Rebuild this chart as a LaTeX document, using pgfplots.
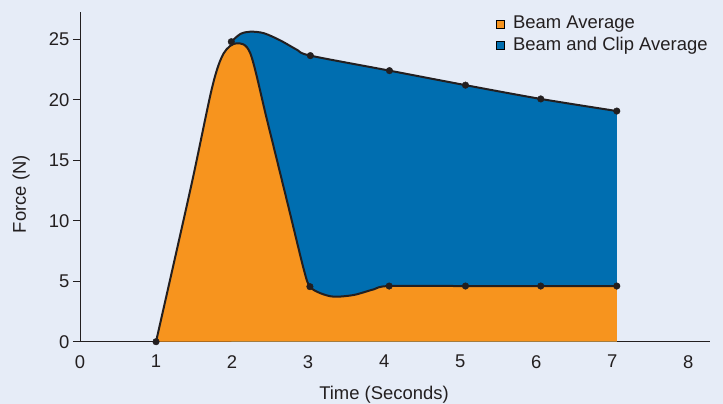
\documentclass[border=0pt]{standalone}
\usepackage{pgfplots}
\pgfplotsset{compat=1.18}
\usepackage{pgfplotstable}
\usepackage{fontspec}
\setmainfont{Liberation Sans}
\definecolor{bgc}{RGB}{230,236,247}
\definecolor{borange}{RGB}{247,148,30}
\definecolor{bblue}{RGB}{0,110,176}
\definecolor{txt}{RGB}{35,31,32}

\pgfplotstableread{
x y
1.00 0.00
1.46 12.81
1.74 21.07
1.89 23.83
2.06 24.66
2.24 23.83
2.46 18.32
2.73 11.44
2.945 5.93
3.024 4.55
3.165 4.00
3.34 3.72
3.60 3.86
3.865 4.33
4.066 4.60
5.07 4.60
6.06 4.60
7.06 4.60
}\orangecurve

\pgfplotstableread{
x y
1.99 24.79
2.11 25.43
2.24 25.62
2.42 25.49
2.64 24.88
2.86 24.10
3.03 23.64
4.07 22.40
5.07 21.20
6.06 20.06
7.06 19.06
}\bluecurve

\pgfplotstableread{
x y
1.00 0.00
3.024 4.55
4.066 4.60
5.07 4.60
6.06 4.60
7.06 4.60
}\orangemarks

\pgfplotstableread{
x y
1.99 24.79
3.03 23.64
4.07 22.40
5.07 21.20
6.06 20.06
7.06 19.06
}\bluemarks

\begin{document}
\begin{tikzpicture}
\fill[bgc] (-80bp,-62.3bp) rectangle (643bp,341.7bp);
\begin{axis}[
  at={(0bp,0bp)}, anchor=south west,
  scale only axis, width=630bp, height=329.4bp,
  xmin=0, xmax=8.286, ymin=0, ymax=27.22,
  axis x line=bottom, axis y line=left,
  axis line style={-, line width=1bp, color=txt},
  xtick={0,1,...,8}, ytick={0,5,...,25},
  x tick style={draw=none},
  y tick style={line width=1bp, color=txt},
  major tick length=7bp, tick align=outside,
  ticklabel style={font=\fontsize{18.5}{21}\selectfont, text=txt},
  xticklabel style={yshift=-3bp},
  /pgf/number format/assume math mode=true,
  label style={font=\fontsize{18.5}{21}\selectfont, text=txt},
  xlabel={Time (Seconds)}, ylabel={Force (N)},
  xlabel style={at={(axis description cs:0.4825,-0.162)}, anchor=center},
  ylabel style={at={(axis description cs:-0.0935,0.448)}, anchor=center},
  clip=false,
  legend cell align=left,
  legend image code/.code={\fill[#1] (0bp,-4bp) rectangle (8bp,4bp);},
  legend style={at={(axis description cs:0.660,0.990)}, anchor=north west,
    draw=none, fill=none, inner sep=0pt, outer sep=0pt,
    font=\fontsize{18.5}{21}\selectfont, text=txt,
    row sep=5bp, column sep=0bp,
    nodes={inner sep=0pt, text height=13bp, text depth=3.5bp},
    /tikz/every odd column/.append style={column sep=9bp}},
]
\addplot[fill=bblue, draw=none, smooth, forget plot] table {\bluecurve} \closedcycle;
\addplot[fill=borange, draw=none, smooth, forget plot] table {\orangecurve} \closedcycle;
\addplot[txt, line width=2bp, smooth, forget plot] table {\orangecurve};
\addplot[txt, line width=2bp, smooth, forget plot] table {\bluecurve};
\addplot[only marks, mark=*, mark size=3.3bp, mark options={fill=txt, draw=txt}, forget plot] table {\orangemarks};
\addplot[only marks, mark=*, mark size=3.3bp, mark options={fill=txt, draw=txt}, forget plot] table {\bluemarks};
\addlegendimage{fill=borange}
\addlegendentry{Beam Average}
\addlegendimage{fill=bblue}
\addlegendentry{Beam and Clip Average}
\end{axis}
\pgfresetboundingbox
\path (-80bp,-62.3bp) rectangle (643bp,341.7bp);
\end{tikzpicture}
\end{document}
